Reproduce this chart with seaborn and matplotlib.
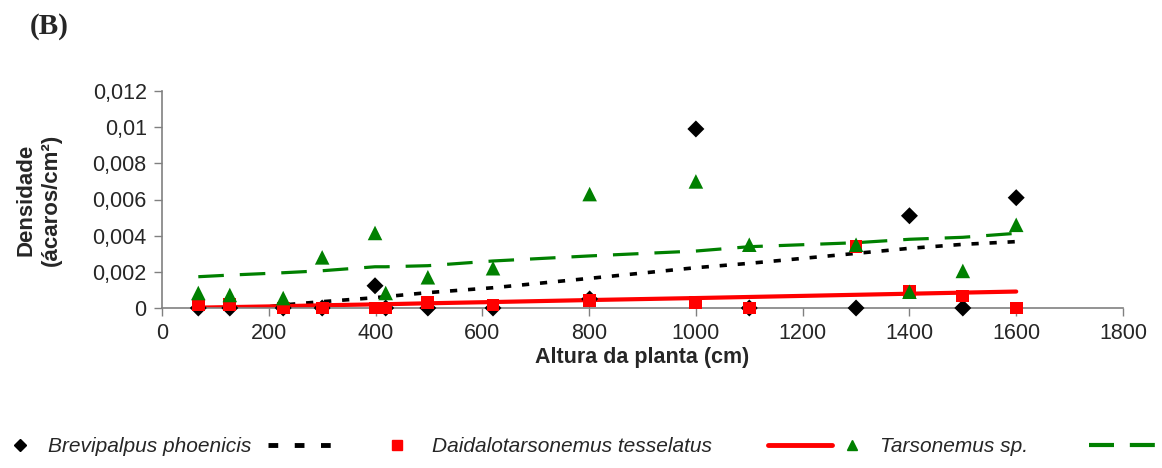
import numpy as np
import pandas as pd
import matplotlib
matplotlib.use("Agg")
import matplotlib.pyplot as plt
from matplotlib.lines import Line2D
import seaborn as sns

# plant height (cm) of each sampled plant
altura = [68, 127, 227, 300, 399, 419, 498, 620, 801, 1000, 1100, 1300, 1400, 1500, 1600]

# mite density (mites/cm2)
brevipalpus = [0, 0, 0, 0, 0.00123, 0, 0, 0, 0.0005, 0.0099, 0, 0, 0.0051, 0, 0.0061]
daidalo = [0.00017, 0.0002, 0, 0, 0, 0, 0.0003, 0.00017, 0.0004, 0.0003, 0, 0.0034, 0.0009, 0.00066, 0]
tarsonemus = [0.00083, 0.00072, 0.00055, 0.0028, 0.00415, 0.00083, 0.0017, 0.0022, 0.0063, 0.0070,
              0.0035, 0.0035, 0.0009, 0.00205, 0.0046]

# trend lines
brevipalpus_trend = [-0.0003, -0.0002, 0.00017, 0.00035, 0.00057, 0.00063, 0.00085, 0.00112, 0.00164,
                     0.00223, 0.00247, 0.00302, 0.0033, 0.00352, 0.00367]
daidalo_trend = [0.00002, 0.00005, 0.0001, 0.00015, 0.0002, 0.00021, 0.00026, 0.00033, 0.00044,
                 0.00055, 0.00061, 0.00073, 0.00079, 0.00085, 0.00091]
tarsonemus_trend = [0.00173, 0.00182, 0.00195, 0.00206, 0.00228, 0.00228, 0.00234, 0.0026, 0.00288,
                    0.00315, 0.00339, 0.00361, 0.0038, 0.00391, 0.00413]

species = ["Brevipalpus phoenicis", "Daidalotarsonemus tesselatus", "Tarsonemus sp."]
x_ticks = [0, 200, 400, 600, 800, 1000, 1200, 1400, 1600, 1800]
y_ticks = [0, 0.002, 0.004, 0.006, 0.008, 0.01, 0.012]
y_tick_labels = ["0", "0,002", "0,004", "0,006", "0,008", "0,01", "0,012"]

df = pd.DataFrame({"altura": altura, "brev": brevipalpus, "daid": daidalo, "tars": tarsonemus,
                   "brev_t": brevipalpus_trend, "daid_t": daidalo_trend, "tars_t": tarsonemus_trend})

sns.set_style("white")
plt.rcParams["font.family"] = ["Liberation Sans", "DejaVu Sans"]

W, H = 1162, 468
fig = plt.figure(figsize=(W / 100, H / 100), dpi=100)
ax = fig.add_axes([162 / W, 1 - 308 / H, (1123 - 162) / W, (308 - 91) / H])

# trend lines
sns.lineplot(data=df, x="altura", y="brev_t", ax=ax, color="black", linewidth=2.6, legend=False)
ax.lines[-1].set_dashes((2, 3))
sns.lineplot(data=df, x="altura", y="daid_t", ax=ax, color="#ff0000", linewidth=3.0, legend=False)
sns.lineplot(data=df, x="altura", y="tars_t", ax=ax, color="#008000", linewidth=2.3, legend=False)
ax.lines[-1].set_dashes((8, 5))

# points
kw = dict(ax=ax, edgecolor="none", legend=False, clip_on=False, zorder=3)
sns.scatterplot(data=df, x="altura", y="brev", marker="D", color="black", s=75, **kw)
sns.scatterplot(data=df, x="altura", y="daid", marker="s", color="#ff0000", s=85, **kw)
sns.scatterplot(data=df, x="altura", y="tars", marker="^", color="#008000", s=110, **kw)

ax.set_xlim(0, 1800)
ax.set_ylim(0, 0.012)
ax.set_xticks(x_ticks)
ax.set_xticklabels([str(v) for v in x_ticks])
ax.set_yticks(y_ticks)
ax.set_yticklabels(y_tick_labels)
ax.tick_params(axis="both", direction="out", length=6, width=1, color="#808080",
               labelsize=15.5, pad=5, left=True, bottom=True)

for side in ["top", "right"]:
    ax.spines[side].set_visible(False)
for side in ["left", "bottom"]:
    ax.spines[side].set_color("#808080")
    ax.spines[side].set_linewidth(1.2)

ax.set_xlabel("Altura da planta (cm)", fontsize=15.5, fontweight="bold", labelpad=2)
ax.set_ylabel("Densidade\n(ácaros/cm²)", fontsize=16, fontweight="bold", labelpad=22,
              linespacing=1.25)

fig.text(30 / W, 1 - 13 / H, "(B)", fontsize=21, fontweight="bold", family="Liberation Serif",
         va="top", ha="left")

# legend row: marker, name, trend line sample (positions in pixels)
ly = 1 - 445 / H
lb = 1 - 452 / H
leg_font = dict(fontsize=15, style="italic", va="baseline", ha="left")
fig.add_artist(Line2D([20 / W], [ly], marker="D", color="black", markersize=6,
                      linestyle="none", transform=fig.transFigure))
fig.text(48 / W, lb, species[0], **leg_font)
fig.add_artist(Line2D([268 / W, 334 / W], [ly, ly], color="black", linewidth=3.5, dashes=(2, 3.4),
                      transform=fig.transFigure))
fig.add_artist(Line2D([397 / W], [ly], marker="s", color="#ff0000", markersize=7,
                      linestyle="none", transform=fig.transFigure))
fig.text(432 / W, lb, species[1], **leg_font)
fig.add_artist(Line2D([768 / W, 832 / W], [ly, ly], color="#ff0000", linewidth=3.5,
                      solid_capstyle="round", transform=fig.transFigure))
fig.add_artist(Line2D([852 / W], [ly], marker="^", color="#008000", markersize=7,
                      linestyle="none", transform=fig.transFigure))
fig.text(880 / W, lb, species[2], **leg_font)
fig.add_artist(Line2D([1089 / W, 1156 / W], [ly, ly], color="#008000", linewidth=3.0,
                      dashes=(6, 3.8), transform=fig.transFigure))

fig.savefig("out.png", dpi=100)
